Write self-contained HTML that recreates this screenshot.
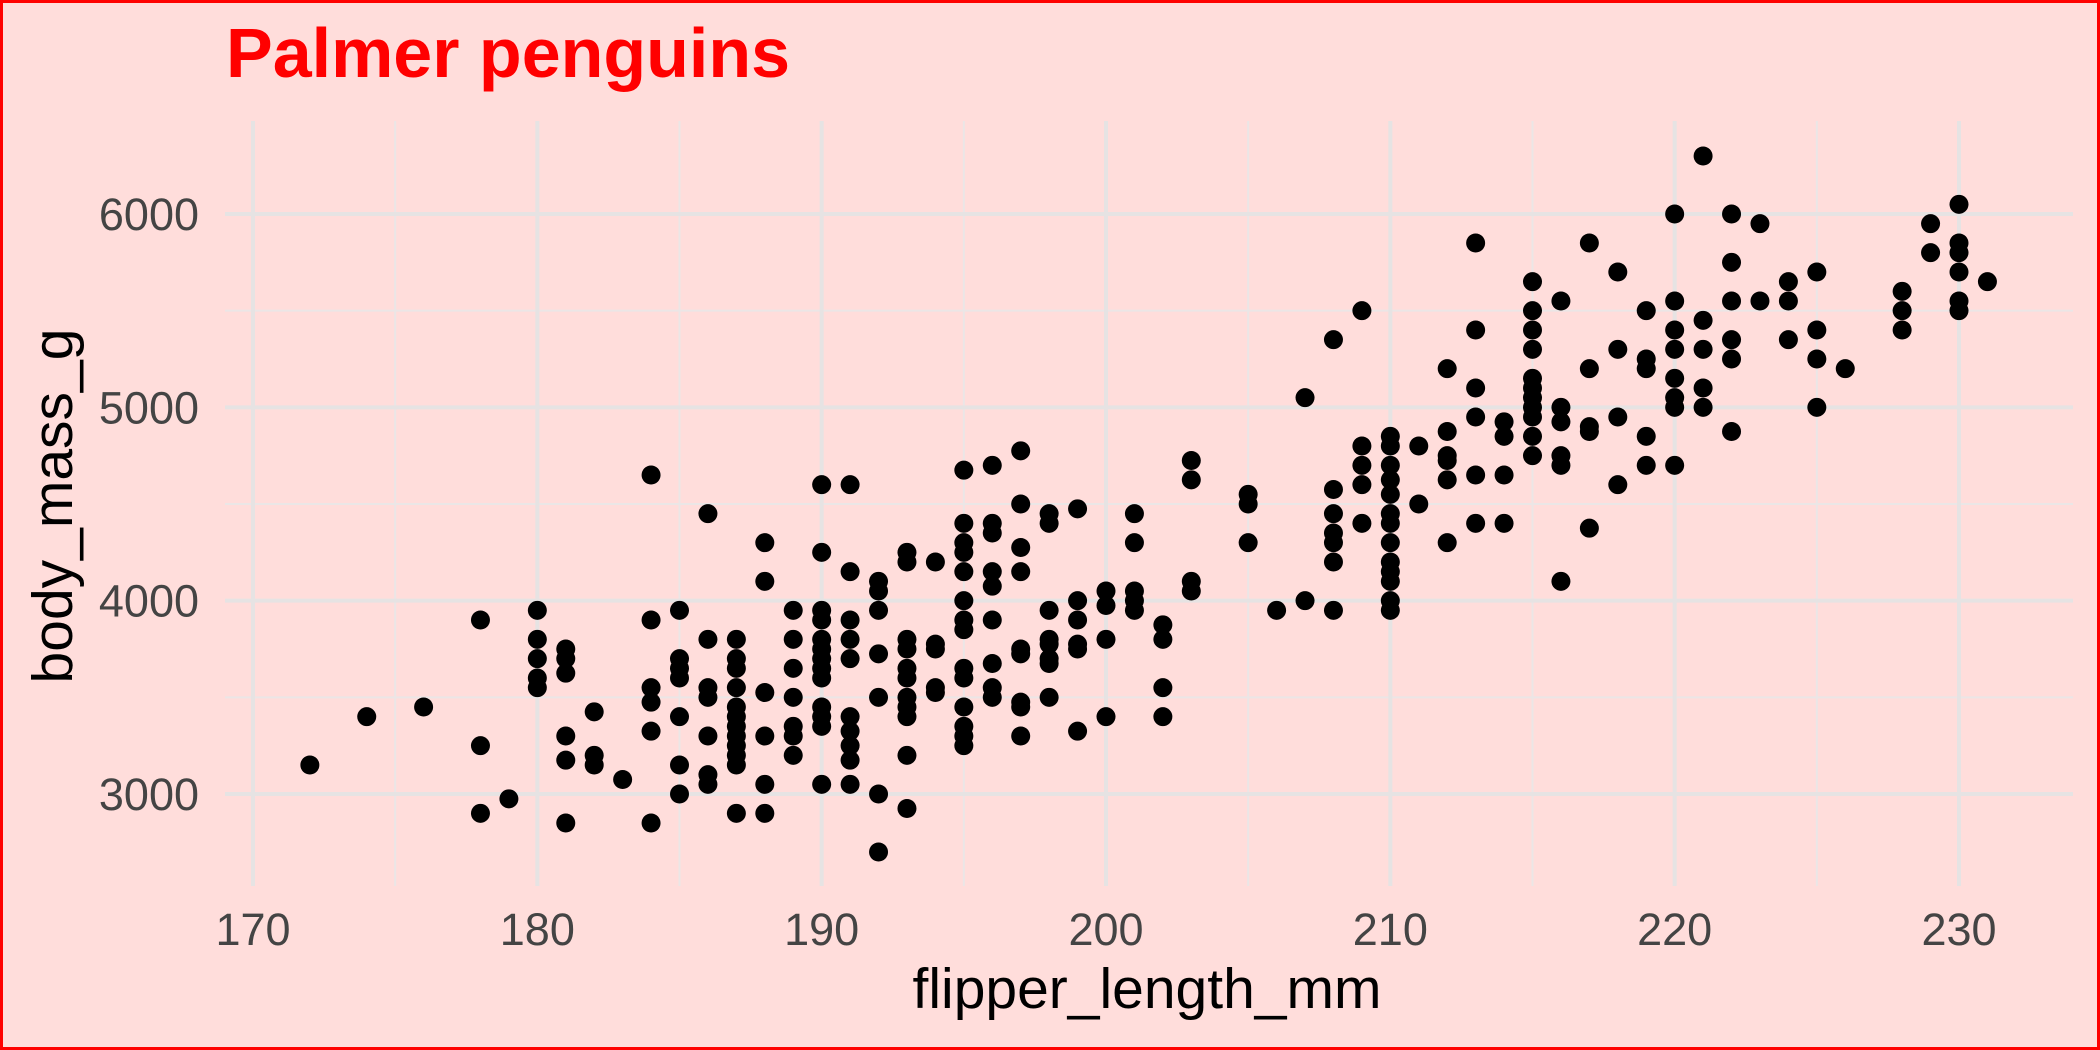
<!DOCTYPE html>
<html><head><meta charset="utf-8"><style>
html,body{margin:0;padding:0;background:#FFDDDB;}
svg{display:block;}
text{font-family:"Liberation Sans",sans-serif;}
</style></head><body>
<svg id="chart" width="2100" height="1050" viewBox="0 0 2100 1050" xmlns="http://www.w3.org/2000/svg">
<rect x="1.5" y="1.5" width="2097" height="1047" fill="#FFDDDB" stroke="#FF0000" stroke-width="3"/>
<g id="grid"></g>
<g id="points"></g>
<g id="axes"></g>
<text x="226" y="77" font-size="70" font-weight="bold" fill="#FF0000">Palmer penguins</text>
<text x="1147" y="1008" font-size="57" text-anchor="middle" fill="#000">flipper_length_mm</text>
<text transform="translate(72,506) rotate(-90)" font-size="57" text-anchor="middle" fill="#000">body_mass_g</text>
</svg>
<script>
const xTicks=[170,180,190,200,210,220,230];
const yTicks=[3000,4000,5000,6000];
const flipper=[172,174,176,178,179,180,181,182,183,184,185,186,187,188,189,190,191,192,193,194,195,196,197,198,199,200,201,202,203,205,206,207,208,209,210,211,212,213,214,215,216,217,218,219,220,221,222,223,224,225,226,228,229,230,231];
const masses=[
[3150],[3400],[3450],[3900,3250,2900],[2975],
[3950,3800,3700,3600,3550],
[3750,3700,3625,3300,3175,2850],
[3425,3200,3150],[3075],
[4650,3900,3550,3475,3325,2850],
[3950,3700,3650,3600,3400,3150,3000],
[4450,3800,3550,3500,3300,3100,3050],
[3800,3700,3650,3550,3450,3400,3350,3300,3250,3200,3150,2900],
[4300,4100,3525,3300,3050,2900],
[3950,3800,3650,3500,3350,3300,3200],
[4600,4250,3950,3900,3800,3750,3700,3650,3600,3450,3400,3350,3050],
[4600,4150,3900,3800,3700,3400,3325,3250,3175,3050],
[4100,4050,3950,3725,3500,3000,2700],
[4250,4200,3800,3750,3650,3600,3500,3450,3400,3200,2925],
[4200,3775,3750,3550,3525],
[4675,4400,4300,4250,4150,4000,3900,3850,3650,3600,3450,3350,3300,3250],
[4700,4400,4350,4150,4075,3900,3675,3550,3500],
[4775,4500,4275,4150,3750,3725,3475,3450,3300],
[4450,4400,3950,3800,3775,3700,3675,3500],
[4475,4000,3900,3775,3750,3325],
[4050,3975,3800,3400],
[4450,4300,4050,4000,3950],
[3875,3800,3550,3400],
[4725,4625,4100,4050],
[4550,4500,4300],[3950],[5050,4000],
[5350,4575,4450,4350,4300,4200,3950],
[5500,4800,4700,4600,4400],
[4850,4800,4700,4625,4550,4450,4400,4300,4200,4150,4100,4000,3950],
[4800,4500],
[5200,4875,4750,4725,4625,4300],
[5850,5400,5100,4950,4650,4400],
[4925,4850,4650,4400],
[5650,5500,5400,5300,5150,5100,5050,5000,4950,4850,4750],
[5550,5000,4925,4750,4700,4100],
[5850,5200,4900,4875,4375],
[5700,5300,4950,4600],
[5500,5250,5200,4850,4700],
[6000,5550,5400,5300,5150,5050,5000,4700],
[6300,5450,5300,5100,5000],
[6000,5750,5550,5350,5250,4875],
[5950,5550],[5650,5550,5350],[5700,5400,5250,5000],[5200],
[5600,5500,5400],[5950,5800],
[6050,5850,5800,5700,5550,5500],[5650]];
const NS="http://www.w3.org/2000/svg";
const X=v=>253+(v-170)*(1959-253)/60;
const Y=v=>794-(v-3000)*(794-214)/3000;
const PL=225,PR=2073,PT=121,PB=886;
function mk(tag,at,parent){const e=document.createElementNS(NS,tag);for(const k in at)e.setAttribute(k,at[k]);parent.appendChild(e);return e;}
const grid=document.getElementById('grid'),pts=document.getElementById('points'),axes=document.getElementById('axes');
const minorX=xTicks.slice(0,-1).map(v=>v+5).concat([xTicks[xTicks.length-1]+5].filter(v=>X(v)<PR));
const minorY=[2500].concat(yTicks.map(v=>v+500)).filter(v=>Y(v)>PT&&Y(v)<PB);
minorX.forEach(v=>{const l=mk('line',{x1:X(v),x2:X(v),y1:PT,y2:PB,stroke:'#EBE6E6','stroke-width':2},grid);

});
minorY.forEach(v=>{const l=mk('line',{x1:PL,x2:PR,y1:Y(v),y2:Y(v),stroke:'#EBE6E6','stroke-width':2},grid);

});
xTicks.forEach(v=>{const l=mk('line',{x1:X(v),x2:X(v),y1:PT,y2:PB,stroke:'#E6E3E3','stroke-width':4},grid);


const t=mk('text',{x:X(v),y:945,'font-size':45,'text-anchor':'middle',fill:'#444'},axes);t.textContent=v;

});
yTicks.forEach(v=>{const l=mk('line',{x1:PL,x2:PR,y1:Y(v),y2:Y(v),stroke:'#E6E3E3','stroke-width':4},grid);


const t=mk('text',{x:199,y:Y(v)+16,'font-size':45,'text-anchor':'end',fill:'#444'},axes);t.textContent=v;

});
flipper.forEach((f,i)=>masses[i].forEach(m=>{const c=mk('circle',{cx:X(f),cy:Y(m),r:9.5,fill:'#000'},pts);

}));
</script>
</body></html>
